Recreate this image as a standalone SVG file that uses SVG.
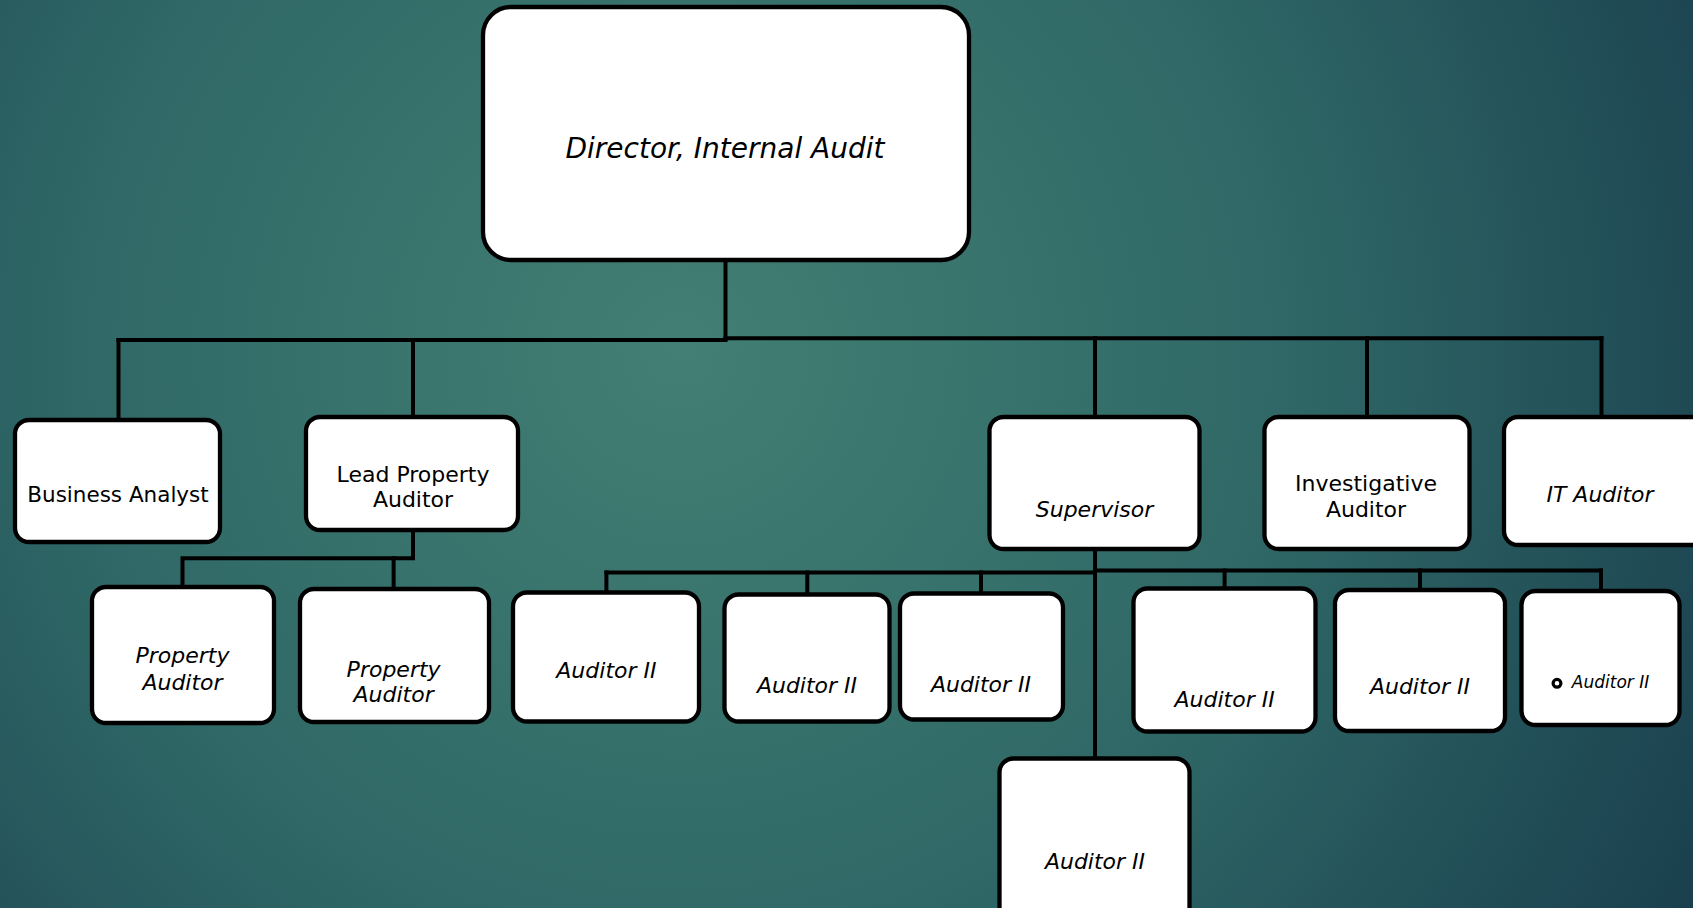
<svg xmlns="http://www.w3.org/2000/svg" width="1693" height="908" viewBox="0 0 1693 908">
  <defs>
    <radialGradient id="bg" gradientUnits="userSpaceOnUse" cx="680" cy="350" r="1200">
      <stop offset="0" stop-color="#437f74"/>
      <stop offset="0.5" stop-color="#2f6866"/>
      <stop offset="1" stop-color="#183c4c"/>
    </radialGradient>
    <style>
      .box { fill: #ffffff; stroke: #000000; stroke-width: 4.3; }
      .conn { fill: none; stroke: #000000; stroke-width: 4; stroke-linecap: square; }
      .t { font-family: "DejaVu Sans", "Noto Sans", sans-serif; font-size: 22px; fill: #000000; text-anchor: middle; }
      .i { font-style: italic; }
    </style>
  </defs>
  <rect x="0" y="0" width="1693" height="908" fill="url(#bg)"/>

  <g id="connectors">
    <path class="conn" d="M725.5 261 V339"/>
    <path class="conn" d="M118.5 340 H725.5"/>
    <path class="conn" d="M725.5 338.3 H1601.5"/>
    <path class="conn" d="M118.5 340 V420"/>
    <path class="conn" d="M413 340 V417"/>
    <path class="conn" d="M1095 338.3 V417"/>
    <path class="conn" d="M1367 338.3 V417"/>
    <path class="conn" d="M1601.5 338.3 V417"/>
    <path class="conn" d="M413 530 V558.3 H182.5 V587"/>
    <path class="conn" d="M393.6 558.3 V589"/>
    <path class="conn" d="M1095 549 V758.5"/>
    <path class="conn" d="M606.4 572.5 H1095"/>
    <path class="conn" d="M606.4 572.5 V592.5"/>
    <path class="conn" d="M807.3 572.5 V594.5"/>
    <path class="conn" d="M981 572.5 V593.5"/>
    <path class="conn" d="M1095 570.5 H1601"/>
    <path class="conn" d="M1224.6 570.5 V588.5"/>
    <path class="conn" d="M1420 570.5 V590"/>
    <path class="conn" d="M1601 570.5 V591"/>
  </g>

  <g id="director">
    <rect class="box" x="483" y="7" width="486" height="253" rx="28"/>
    <text class="t i" x="725" y="158.3" style="font-size:28px">Director, Internal Audit</text>
  </g>

  <g id="business-analyst">
    <rect class="box" x="15" y="420" width="205" height="122" rx="14"/>
    <text class="t" x="118" y="501.7" style="font-size:21.5px">Business Analyst</text>
  </g>

  <g id="lead-property-auditor">
    <rect class="box" x="306" y="417" width="212" height="113" rx="14"/>
    <text class="t" x="413" y="481.7">Lead Property</text>
    <text class="t" x="413" y="507">Auditor</text>
  </g>

  <g id="supervisor">
    <rect class="box" x="989.5" y="417" width="210" height="132" rx="14"/>
    <text class="t i" x="1094.5" y="517">Supervisor</text>
  </g>

  <g id="investigative-auditor">
    <rect class="box" x="1264.5" y="417" width="205" height="132" rx="14"/>
    <text class="t" x="1366" y="490.7">Investigative</text>
    <text class="t" x="1366" y="517.3">Auditor</text>
  </g>

  <g id="it-auditor">
    <rect class="box" x="1504" y="417" width="220" height="128" rx="14"/>
    <text class="t i" x="1600" y="501.7">IT Auditor</text>
  </g>

  <g id="property-auditor-1">
    <rect class="box" x="92" y="587" width="182" height="136" rx="14"/>
    <text class="t i" x="182.5" y="663">Property</text>
    <text class="t i" x="182.5" y="690">Auditor</text>
  </g>

  <g id="property-auditor-2">
    <rect class="box" x="300" y="589" width="189" height="133" rx="14"/>
    <text class="t i" x="393.6" y="677">Property</text>
    <text class="t i" x="393.6" y="702">Auditor</text>
  </g>

  <g id="auditor-ii-1">
    <rect class="box" x="513" y="592.5" width="186" height="129" rx="14"/>
    <text class="t i" x="606.4" y="678.3">Auditor II</text>
  </g>

  <g id="auditor-ii-2">
    <rect class="box" x="724.5" y="594.5" width="165" height="127" rx="14"/>
    <text class="t i" x="807" y="692.7">Auditor II</text>
  </g>

  <g id="auditor-ii-3">
    <rect class="box" x="900" y="593.5" width="163" height="126" rx="14"/>
    <text class="t i" x="981" y="691.7">Auditor II</text>
  </g>

  <g id="auditor-ii-4">
    <rect class="box" x="999.5" y="758.5" width="190" height="170" rx="14"/>
    <text class="t i" x="1095" y="869.3">Auditor II</text>
  </g>

  <g id="auditor-ii-5">
    <rect class="box" x="1133.5" y="588.5" width="182" height="143" rx="14"/>
    <text class="t i" x="1224.6" y="706.7">Auditor II</text>
  </g>

  <g id="auditor-ii-6">
    <rect class="box" x="1335" y="590" width="170" height="141" rx="14"/>
    <text class="t i" x="1420" y="694">Auditor II</text>
  </g>

  <g id="auditor-ii-7">
    <rect class="box" x="1521.5" y="591" width="158" height="134" rx="14"/>
    <circle cx="1557" cy="683.3" r="3.9" fill="none" stroke="#000000" stroke-width="3.2"/>
    <text class="t i" x="1571.8" y="688.3" style="font-size:17px;text-anchor:start">Auditor II</text>
  </g>
</svg>
